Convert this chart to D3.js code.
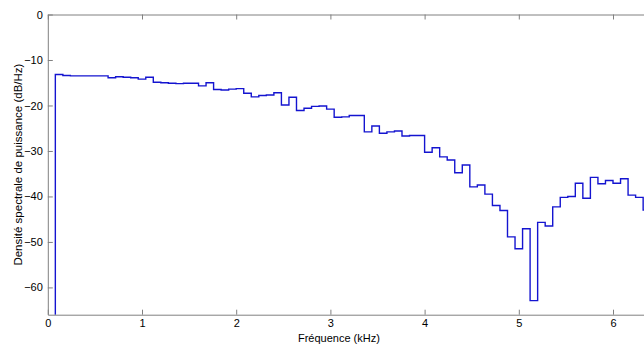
<!DOCTYPE html>
<html>
<head>
<meta charset="utf-8">
<style>
  body { margin: 0; background: #fff; }
  svg { display: block; font-family: "Liberation Sans", Arial, sans-serif; }
</style>
</head>
<body>
<svg width="644" height="346"></svg>
<script src="https://d3js.org/d3.v7.min.js"></script>
<script>
  // frequency of each bin start (kHz), stairs are drawn from here to the next bin
  var freqs = [0.00, 0.08, 0.16, 0.24, 0.32, 0.40, 0.48, 0.56, 0.64, 0.72,
               0.80, 0.88, 0.96, 1.04, 1.12, 1.20, 1.28, 1.36, 1.44, 1.52,
               1.60, 1.68, 1.76, 1.84, 1.92, 2.00, 2.08, 2.16, 2.24, 2.32,
               2.40, 2.48, 2.56, 2.64, 2.72, 2.80, 2.88, 2.96, 3.04, 3.12,
               3.20, 3.28, 3.36, 3.44, 3.52, 3.60, 3.68, 3.76, 3.84, 3.92,
               4.00, 4.08, 4.16, 4.24, 4.32, 4.40, 4.48, 4.56, 4.64, 4.72,
               4.80, 4.88, 4.96, 5.04, 5.12, 5.20, 5.28, 5.36, 5.44, 5.52,
               5.60, 5.68, 5.76, 5.84, 5.92, 6.00, 6.08, 6.16, 6.24, 6.32];

  // power spectral density (dB/Hz)
  var psd = [-100, -13.2, -13.4, -13.5, -13.5, -13.5, -13.5, -13.5, -13.9, -13.7,
             -13.8, -13.9, -14.2, -13.8, -14.9, -15.0, -15.1, -15.2, -15.1, -15.1,
             -15.7, -15.0, -16.5, -16.6, -16.4, -16.3, -17.3, -18.1, -17.8, -17.7,
             -17.2, -19.9, -18.2, -21.1, -20.6, -20.2, -20.1, -20.8, -22.6, -22.5,
             -22.2, -22.2, -25.8, -24.5, -26.1, -25.8, -25.6, -26.7, -26.6, -26.6,
             -30.3, -29.3, -31.3, -32.0, -34.8, -33.1, -37.9, -37.5, -39.5, -42.0,
             -43.1, -48.9, -51.5, -47.1, -62.9, -45.7, -46.5, -42.3, -40.2, -40.0,
             -37.1, -40.4, -35.8, -37.2, -36.5, -37.1, -36.1, -39.7, -40.2, -43.0];

  var xTicks = [0, 1, 2, 3, 4, 5, 6];
  var yTicks = [0, -10, -20, -30, -40, -50, -60];

  var svg = d3.select("svg"),
      margin = {top: 14.5, left: 47.8, bottom: 31.3},
      height = +svg.attr("height") - margin.top - margin.bottom,
      pxPerKHz = 94.2,
      width = 8 * pxPerKHz;

  var g = svg.append("g")
      .attr("transform", "translate(" + margin.left + "," + margin.top + ")");

  var x = d3.scaleLinear().domain([0, 8]).range([0, width]);
  var y = d3.scaleLinear().domain([-66, 0]).range([height, 0]);

  svg.append("defs").append("clipPath").attr("id", "clip")
    .append("rect").attr("width", width).attr("height", height);

  var data = freqs.map(function(f, i) { return {f: f, p: psd[i]}; });
  data.push({f: freqs[freqs.length - 1] + 0.08, p: psd[psd.length - 1]});

  var line = d3.line()
      .curve(d3.curveStepAfter)
      .x(function(d) { return x(d.f); })
      .y(function(d) { return y(d.p); });

  g.append("path")
      .datum(data)
      .attr("clip-path", "url(#clip)")
      .attr("fill", "none")
      .attr("stroke", "#1414d0")
      .attr("stroke-width", 1.4)
      .attr("d", line);

  var axisColor = "#808080";

  // bottom axis, ticks pointing inward
  var xAxis = g.append("g")
      .attr("transform", "translate(0," + height + ")")
      .call(d3.axisBottom(x).tickValues(xTicks).tickFormat(d3.format("d"))
        .tickSizeInner(-5).tickSizeOuter(0).tickPadding(4));
  // top axis (box)
  var xTop = g.append("g")
      .call(d3.axisTop(x).tickValues(xTicks).tickFormat("")
        .tickSizeInner(-5).tickSizeOuter(0));
  var yAxis = g.append("g")
      .call(d3.axisLeft(y).tickValues(yTicks).tickFormat(d3.format("d"))
        .tickSizeInner(-5).tickSizeOuter(0).tickPadding(5));

  [xAxis, xTop, yAxis].forEach(function(a) {
    a.select(".domain").attr("stroke", axisColor);
    a.selectAll(".tick line").attr("stroke", axisColor);
    a.selectAll("text").attr("fill", "#000").attr("font-size", 11)
      .attr("font-family", "Liberation Sans, Arial, sans-serif");
  });
  xAxis.selectAll("text").attr("dy", "0.8em");

  svg.append("text")
      .attr("x", margin.left + x(3.09))
      .attr("y", 342)
      .attr("text-anchor", "middle")
      .attr("font-size", 11)
      .text("Fréquence (kHz)");

  svg.append("text")
      .attr("transform", "translate(22," + (margin.top + height / 2) + ") rotate(-90)")
      .attr("text-anchor", "middle")
      .attr("font-size", 11.5)
      .text("Densité spectrale de puissance (dB/Hz)");
</script>
</body>
</html>
